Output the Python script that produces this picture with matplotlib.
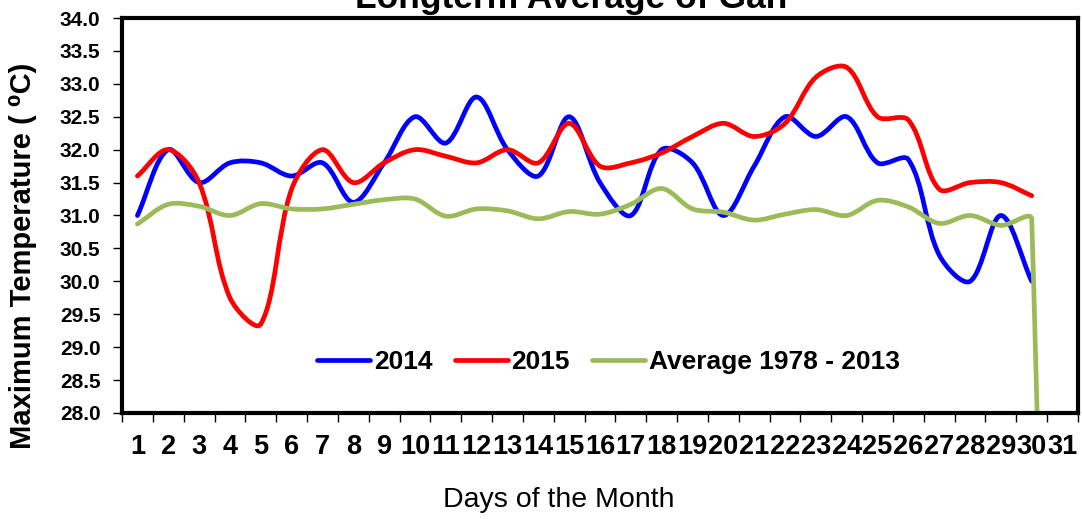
import numpy as np
import matplotlib
matplotlib.use('Agg')
import matplotlib.pyplot as plt
from matplotlib.path import Path
from matplotlib.patches import PathPatch
from matplotlib.lines import Line2D

plt.rcParams['font.family'] = ['Liberation Sans', 'DejaVu Sans']

days = list(range(1, 32))
day_labels = [str(d) for d in days]

# maximum temperature per day (31 has no reading in 2014 / 2015)
t2014 = [31.0, 32.0, 31.5, 31.8, 31.8, 31.6, 31.8, 31.2, 31.8, 32.5,
         32.1, 32.8, 32.0, 31.6, 32.5, 31.5, 31.0, 32.0, 31.8, 31.0,
         31.75, 32.5, 32.2, 32.5, 31.8, 31.85, 30.4, 30.0, 31.0, 30.0]
t2015 = [31.6, 32.0, 31.5, 29.75, 29.35, 31.4, 32.0, 31.5, 31.8, 32.0,
         31.9, 31.8, 32.0, 31.8, 32.4, 31.75, 31.8, 31.95, 32.2, 32.4,
         32.2, 32.4, 33.1, 33.25, 32.5, 32.45, 31.4, 31.5, 31.5, 31.3]
t_avg = [30.87, 31.17, 31.14, 31.0, 31.18, 31.1, 31.1, 31.17, 31.24, 31.25,
         30.99, 31.1, 31.07, 30.95, 31.06, 31.02, 31.17, 31.41, 31.1, 31.05,
         30.93, 31.02, 31.09, 31.0, 31.23, 31.13, 30.88, 31.0, 30.85, 30.94,
         0.0]

series_names = ['2014', '2015', 'Average 1978 - 2013']
series_colors = ['#0000ff', '#ff0000', '#9bbb59']

yticks = np.arange(28.0, 34.01, 0.5)

LW = 3.4
# rough pixels per unit, so the smoothing weights look like excel's
SX, SY = 30.8, 65.8


def smooth_path(xs, ys):
    # excel style smoothed line: tangents weighted by neighbour segment lengths
    pts = np.column_stack([xs, ys]).astype(float)
    n = len(pts)
    scaled = pts * [SX, SY]
    seg = np.hypot(*np.diff(scaled, axis=0).T)

    def tangent(i):
        if i == 0 or i == n - 1:
            return np.zeros(2), 0.0, 0.0
        d0, d1 = seg[i - 1], seg[i]
        t = pts[i + 1] - pts[i - 1]
        return t, d0 / (d0 + d1), d1 / (d0 + d1)

    verts = [pts[0]]
    codes = [Path.MOVETO]
    for i in range(n - 1):
        ta, _, wa = tangent(i)
        tb, wb, _ = tangent(i + 1)
        if i == 0:
            c1 = pts[0] + (pts[1] - pts[0]) / 3.0
        else:
            c1 = pts[i] + ta * wa / 3.0
        if i + 1 == n - 1:
            c2 = pts[i + 1] - (pts[i + 1] - pts[i]) / 3.0
        else:
            c2 = pts[i + 1] - tb * wb / 3.0
        verts += [c1, c2, pts[i + 1]]
        codes += [Path.CURVE4] * 3
    return Path(verts, codes)


fig = plt.figure(figsize=(10.82, 5.19), dpi=100)
ax = fig.add_axes([122 / 1082, 1 - 413 / 519, 956 / 1082, 395 / 519])

handles = []
for vals, name, col in zip([t2014, t2015, t_avg], series_names, series_colors):
    path = smooth_path(days[:len(vals)], vals)
    patch = PathPatch(path, fill=False, edgecolor=col, lw=LW,
                      capstyle='round', joinstyle='round')
    ax.add_patch(patch)
    handles.append(Line2D([], [], color=col, lw=LW, solid_capstyle='round'))

ax.set_xlim(0.5, 31.5)
ax.set_ylim(28.0, 34.0)

ax.set_yticks(yticks)
ax.set_yticklabels(['%.1f' % v for v in yticks], fontsize=15, fontweight='bold')
ax.tick_params(axis='y', direction='out', length=6.5, width=1, pad=9)

# ticks on category boundaries, labels in the middle
ax.set_xticks(np.arange(0.5, 32, 1.0))
ax.set_xticklabels([])
ax.set_xticks(days, minor=True)
ax.set_xticklabels(day_labels, minor=True, fontsize=19.5, fontweight='bold')
ax.tick_params(axis='x', which='major', direction='out', length=6.5, width=1)
ax.tick_params(axis='x', which='minor', length=0, pad=15)

for s in ax.spines.values():
    s.set_linewidth(3)

ax.legend(handles, series_names, loc='center', bbox_to_anchor=(0.509, 0.129),
          ncol=3, frameon=False, handlelength=2.0, handletextpad=0.15,
          columnspacing=0.85, prop={'size': 19, 'weight': 'bold'})

fig.text(571 / 1082, 1 - 8 / 519, 'Longterm Average of Gan', ha='center',
         va='baseline', fontsize=25.5, fontweight='bold')
fig.text(23 / 1082, 1 - 256 / 519, 'Maximum Temperature ( \u2070C)', rotation=90,
         ha='center', va='center', fontsize=21, fontweight='bold')
fig.text(559 / 1082, 1 - 500 / 519, 'Days of the Month', ha='center',
         va='center', fontsize=20.5)

fig.savefig('out.png', dpi=100)
